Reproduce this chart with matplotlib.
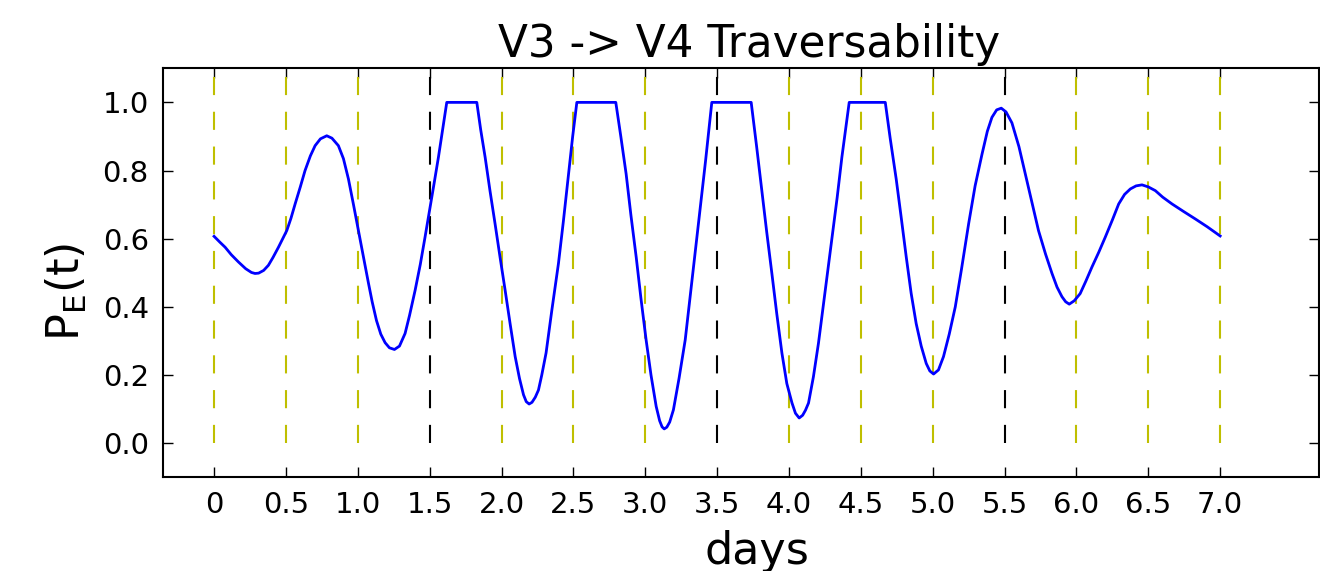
import numpy as np
import matplotlib
matplotlib.use('Agg')
import matplotlib.pyplot as plt

# curve (days, P_E)
days = [0.0, 0.04, 0.077, 0.12, 0.169, 0.22, 0.26, 0.285, 0.31, 0.345,
        0.378, 0.41, 0.448, 0.506, 0.535, 0.564, 0.60, 0.633, 0.67, 0.703,
        0.74, 0.784, 0.82, 0.865, 0.90, 0.935, 0.97, 1.004, 1.04, 1.074,
        1.10, 1.13, 1.16, 1.19, 1.22, 1.255, 1.29, 1.329, 1.36, 1.399,
        1.435, 1.468, 1.503, 1.53, 1.561, 1.59, 1.619,
        1.828, 1.855, 1.886, 1.92, 1.955, 1.99, 2.025, 2.06, 2.095, 2.125,
        2.153, 2.172, 2.192, 2.212, 2.235, 2.257, 2.28, 2.31, 2.35, 2.396,
        2.43, 2.466, 2.495, 2.524,
        2.795, 2.83, 2.867, 2.9, 2.937, 2.97, 3.006, 3.04, 3.076, 3.1,
        3.117, 3.132, 3.15, 3.17, 3.196, 3.235, 3.278, 3.32, 3.37, 3.42, 3.463,
        3.737, 3.775, 3.811, 3.845, 3.881, 3.915, 3.951, 3.985, 4.021, 4.045,
        4.071, 4.095, 4.115, 4.136, 4.17, 4.205, 4.25, 4.298, 4.335, 4.368,
        4.395, 4.419,
        4.67, 4.704, 4.746, 4.78, 4.816, 4.85, 4.885, 4.92, 4.955,
        4.98, 5.006, 5.04, 5.075, 5.115, 5.157, 5.2, 5.25, 5.295, 5.343,
        5.38, 5.412, 5.445, 5.477, 5.51, 5.551, 5.6, 5.644, 5.69, 5.736,
        5.785, 5.83, 5.865, 5.899, 5.925, 5.95, 5.985, 6.026, 6.065, 6.108,
        6.155, 6.201, 6.25, 6.294, 6.335, 6.375, 6.415, 6.456, 6.5, 6.549,
        6.6, 6.665, 6.745, 6.827, 6.91, 7.0]
pe = [0.607, 0.59, 0.575, 0.553, 0.532, 0.512, 0.501, 0.498, 0.499, 0.507,
      0.522, 0.545, 0.575, 0.624, 0.66, 0.702, 0.752, 0.80, 0.843, 0.873,
      0.893, 0.902, 0.895, 0.873, 0.835, 0.775, 0.70, 0.624, 0.545, 0.47,
      0.415, 0.36, 0.32, 0.295, 0.28, 0.275, 0.285, 0.322, 0.375, 0.449,
      0.525, 0.605, 0.692, 0.76, 0.839, 0.92, 1.0,
      1.0, 0.92, 0.839, 0.74, 0.644, 0.545, 0.449, 0.35, 0.254, 0.19,
      0.142, 0.122, 0.115, 0.12, 0.135, 0.156, 0.2, 0.265, 0.39, 0.527,
      0.65, 0.79, 0.9, 1.0,
      1.0, 0.9, 0.79, 0.67, 0.546, 0.425, 0.303, 0.2, 0.108, 0.066,
      0.048, 0.042, 0.047, 0.062, 0.098, 0.19, 0.303, 0.46, 0.644, 0.83, 1.0,
      1.0, 0.87, 0.741, 0.62, 0.498, 0.38, 0.264, 0.175, 0.118, 0.088,
      0.074, 0.082, 0.097, 0.118, 0.195, 0.293, 0.44, 0.595, 0.72, 0.839,
      0.925, 1.0,
      1.0, 0.895, 0.775, 0.665, 0.546, 0.44, 0.351, 0.285, 0.234,
      0.212, 0.203, 0.215, 0.254, 0.32, 0.40, 0.51, 0.644, 0.755, 0.848,
      0.915, 0.956, 0.978, 0.983, 0.972, 0.94, 0.87, 0.79, 0.705, 0.624,
      0.555, 0.498, 0.458, 0.43, 0.415, 0.408, 0.418, 0.439, 0.475, 0.517,
      0.56, 0.605, 0.655, 0.702, 0.73, 0.746, 0.755, 0.758, 0.752, 0.741,
      0.722, 0.702, 0.68, 0.658, 0.635, 0.608]

tick_pos = [0, 0.5, 1.0, 1.5, 2.0, 2.5, 3.0, 3.5, 4.0, 4.5, 5.0, 5.5, 6.0, 6.5, 7.0]
tick_lab = ['0', '0.5', '1.0', '1.5', '2.0', '2.5', '3.0', '3.5', '4.0', '4.5',
            '5.0', '5.5', '6.0', '6.5', '7.0']
black_marks = [1.5, 3.5, 5.5]

plt.rcParams['mathtext.default'] = 'regular'
fig = plt.figure(figsize=(13.2, 5.71), dpi=100)
ax = fig.add_axes([0.1233, 0.1641, 0.8762, 0.7163])

# vertical dashed day markers
for t in tick_pos:
    c = 'k' if t in black_marks else (0.75, 0.75, 0)
    ax.vlines(t, 0, 1.1, colors=[c], linewidth=1.5, linestyles=[(0, (8.7, 8.0))])

ax.plot(days, pe, color='b', linewidth=2)

ax.set_xlim(-0.357, 7.69)
ax.set_ylim(-0.1, 1.1)
ax.set_xticks(tick_pos)
ax.set_xticklabels(tick_lab)
ax.set_yticks([0.0, 0.2, 0.4, 0.6, 0.8, 1.0])
ax.set_yticklabels(['0.0', '0.2', '0.4', '0.6', '0.8', '1.0'])
ax.tick_params(direction='in', length=7, width=1, labelsize=21,
               top=True, right=True, pad=10)
for s in ax.spines.values():
    s.set_linewidth(1.5)

ax.set_title('V3 -> V4 Traversability', fontsize=31.5, pad=8, x=0.5065)
ax.set_xlabel('days', fontsize=32, labelpad=8)
ax.xaxis.label.set_x(0.514)
ax.set_ylabel('P$_{E}$(t)', fontsize=32, labelpad=10)
ax.yaxis.label.set_y(0.454)

fig.savefig('out.png', dpi=100)
